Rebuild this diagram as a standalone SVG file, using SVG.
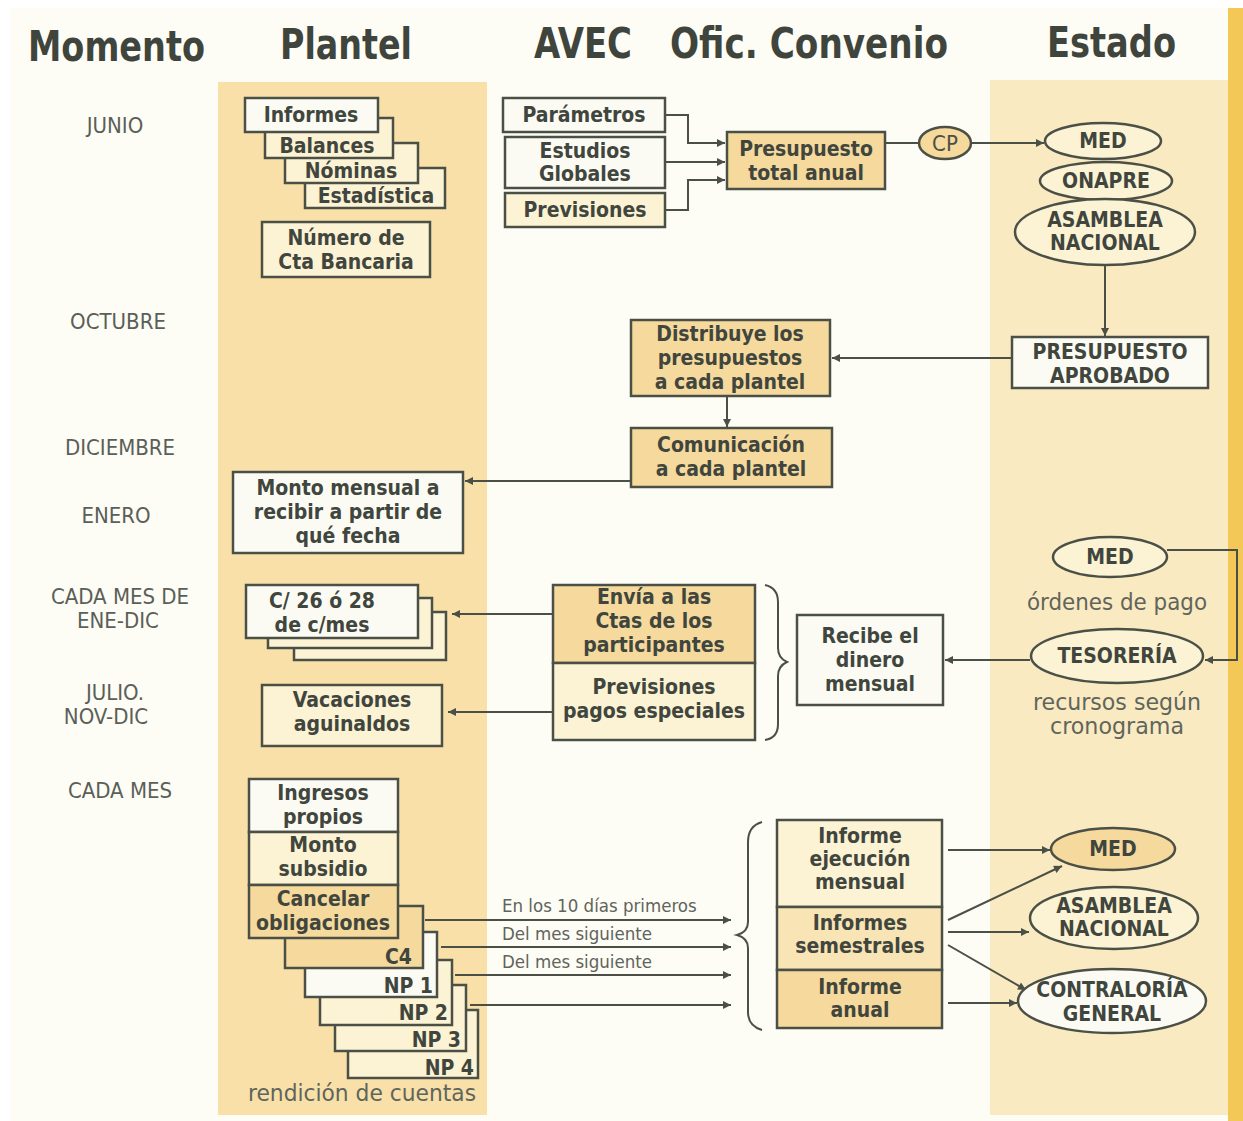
<svg xmlns="http://www.w3.org/2000/svg" width="1243" height="1121" viewBox="0 0 1243 1121">
<defs>
<style>
.bx{stroke:#4b5046;stroke-width:2.5}
.w{fill:#fbfbf3}
.c{fill:#fcf2d4}
.t{fill:#f6d99c}
.l{font-family:"DejaVu Sans Condensed","DejaVu Sans",sans-serif;font-weight:bold;font-size:21px;fill:#40463d;text-anchor:middle}
.m{font-family:"DejaVu Sans Condensed","DejaVu Sans",sans-serif;font-size:22px;fill:#5a5f58;text-anchor:middle}
.g{font-family:"DejaVu Sans Condensed","DejaVu Sans",sans-serif;font-size:23px;fill:#60655c;text-anchor:middle}
.h{font-family:"DejaVu Sans Condensed","DejaVu Sans",sans-serif;font-weight:bold;font-size:42px;fill:#3f453c}
.s{font-family:"DejaVu Sans Condensed","DejaVu Sans",sans-serif;font-size:18.5px;fill:#5f645c}
.ln{fill:none;stroke:#4b5046;stroke-width:2}
</style>
<marker id="a" viewBox="0 0 10 10" refX="10" refY="5" markerWidth="11" markerHeight="8" markerUnits="userSpaceOnUse" orient="auto"><path d="M0,0 L10,5 L0,10 z" fill="#4b5046"/></marker>
</defs>
<rect width="1243" height="1121" fill="#ffffff"/>
<rect x="10" y="8" width="1233" height="1113" fill="#fdfcf5"/>
<rect x="218" y="82" width="269" height="1033" fill="#f8e0a8"/>
<rect x="990" y="80" width="238" height="1035" fill="#faeac2"/>
<rect x="1228" y="8" width="15" height="1113" fill="#f4c857"/>

<g id="headers">
<text class="h" x="28" y="61" textLength="177" lengthAdjust="spacingAndGlyphs">Momento</text>
<text class="h" x="280" y="59" textLength="132" lengthAdjust="spacingAndGlyphs">Plantel</text>
<text class="h" x="534" y="58" textLength="98" lengthAdjust="spacingAndGlyphs">AVEC</text>
<text class="h" x="670" y="58" textLength="278" lengthAdjust="spacingAndGlyphs">Ofic. Convenio</text>
<text class="h" x="1047" y="57" textLength="129" lengthAdjust="spacingAndGlyphs">Estado</text>
</g>

<g id="momentos">
<text class="m" x="115" y="133">JUNIO</text>
<text class="m" x="118" y="329">OCTUBRE</text>
<text class="m" x="120" y="455">DICIEMBRE</text>
<text class="m" x="116" y="523">ENERO</text>
<text class="m" x="120" y="604">CADA  MES DE</text>
<text class="m" x="118" y="628">ENE-DIC</text>
<text class="m" x="115" y="700">JULIO.</text>
<text class="m" x="106" y="724">NOV-DIC</text>
<text class="m" x="120" y="798">CADA MES</text>
</g>

<g id="connectors">
<path class="ln" d="M665,115 H688 V143 H725" marker-end="url(#a)"/>
<path class="ln" d="M665,162 H725" marker-end="url(#a)"/>
<path class="ln" d="M665,210 H688 V180 H725" marker-end="url(#a)"/>
<path class="ln" d="M885,143 H919"/>
<path class="ln" d="M971,143 H1044" marker-end="url(#a)"/>
<path class="ln" d="M1105,265 V336" marker-end="url(#a)"/>
<path class="ln" d="M1012,358 H832" marker-end="url(#a)"/>
<path class="ln" d="M727,396 V427" marker-end="url(#a)"/>
<path class="ln" d="M631,481 H465" marker-end="url(#a)"/>
<path class="ln" d="M553,614 H452" marker-end="url(#a)"/>
<path class="ln" d="M553,712 H448" marker-end="url(#a)"/>
<path class="ln" d="M1030,660 H945" marker-end="url(#a)"/>
<path class="ln" d="M1167,550 H1237 V660 H1205" marker-end="url(#a)"/>
<path class="ln" d="M425,920 H731" marker-end="url(#a)"/>
<path class="ln" d="M441,947 H731" marker-end="url(#a)"/>
<path class="ln" d="M455,975 H731" marker-end="url(#a)"/>
<path class="ln" d="M470,1005 H731" marker-end="url(#a)"/>
<path class="ln" d="M948,850 H1050" marker-end="url(#a)"/>
<path class="ln" d="M948,920 L1062,866" marker-end="url(#a)"/>
<path class="ln" d="M948,932 H1029" marker-end="url(#a)"/>
<path class="ln" d="M948,945 L1026,990" marker-end="url(#a)"/>
<path class="ln" d="M948,1003 H1017" marker-end="url(#a)"/>
<path class="ln" d="M765,585 Q778,588 778,602 V648 Q778,658 787,662 Q778,666 778,676 V724 Q778,738 765,740"/>
<path class="ln" d="M762,822 Q748,826 748,842 V922 Q748,932 737,935 Q748,938 748,948 V1012 Q748,1026 762,1030"/>
<text class="s" x="502" y="912">En los 10 días primeros</text>
<text class="s" x="502" y="940">Del mes siguiente</text>
<text class="s" x="502" y="968">Del mes siguiente</text>
</g>

<g id="informes-stack">
<rect class="bx c" x="305" y="168" width="140" height="40"/>
<rect class="bx c" x="285" y="143" width="133" height="40"/>
<rect class="bx c" x="265" y="118" width="128" height="40"/>
<rect class="bx w" x="245" y="98" width="133" height="34"/>
<text class="l" x="311" y="122">Informes</text>
<text class="l" x="327" y="153">Balances</text>
<text class="l" x="351" y="178">Nóminas</text>
<text class="l" x="376" y="203">Estadística</text>
</g>

<g id="cta-bancaria">
<rect class="bx c" x="262" y="222" width="168" height="55"/>
<text class="l" x="346" y="245">Número de</text>
<text class="l" x="346" y="269">Cta Bancaria</text>
</g>

<g id="parametros">
<rect class="bx w" x="503" y="98" width="162" height="34"/>
<text class="l" x="584" y="122">Parámetros</text>
</g>
<g id="estudios">
<rect class="bx w" x="505" y="137" width="160" height="51"/>
<text class="l" x="585" y="158">Estudios</text>
<text class="l" x="585" y="181">Globales</text>
</g>
<g id="previsiones">
<rect class="bx c" x="505" y="193" width="160" height="34"/>
<text class="l" x="585" y="217">Previsiones</text>
</g>
<g id="presupuesto-total">
<rect class="bx t" x="727" y="132" width="158" height="57"/>
<text class="l" x="806" y="156">Presupuesto</text>
<text class="l" x="806" y="180">total anual</text>
</g>
<g id="cp">
<ellipse class="bx t" cx="945" cy="143" rx="26" ry="16"/>
<text class="m" x="945" y="151" style="fill:#4b5046">CP</text>
</g>
<g id="med1">
<ellipse class="bx c" cx="1103" cy="141" rx="58" ry="18"/>
<text class="l" x="1103" y="148">MED</text>
</g>
<g id="onapre">
<ellipse class="bx c" cx="1106" cy="181" rx="66" ry="19"/>
<text class="l" x="1106" y="188">ONAPRE</text>
</g>
<g id="asamblea1">
<ellipse class="bx c" cx="1105" cy="232" rx="90" ry="33"/>
<text class="l" x="1105" y="227">ASAMBLEA</text>
<text class="l" x="1105" y="250">NACIONAL</text>
</g>
<g id="presupuesto-aprobado">
<rect class="bx w" x="1012" y="337" width="196" height="51"/>
<text class="l" x="1110" y="359">PRESUPUESTO</text>
<text class="l" x="1110" y="383">APROBADO</text>
</g>
<g id="distribuye">
<rect class="bx t" x="631" y="320" width="199" height="76"/>
<text class="l" x="730" y="341">Distribuye los</text>
<text class="l" x="730" y="365">presupuestos</text>
<text class="l" x="730" y="389">a cada plantel</text>
</g>
<g id="comunicacion">
<rect class="bx t" x="631" y="428" width="201" height="59"/>
<text class="l" x="731" y="452">Comunicación</text>
<text class="l" x="731" y="476">a cada plantel</text>
</g>
<g id="monto-mensual">
<rect class="bx w" x="233" y="472" width="230" height="81"/>
<text class="l" x="348" y="495">Monto mensual a</text>
<text class="l" x="348" y="519">recibir a partir de</text>
<text class="l" x="348" y="543">qué fecha</text>
</g>

<g id="c26-stack">
<rect class="bx c" x="294" y="612" width="152" height="48"/>
<rect class="bx c" x="268" y="598" width="164" height="50"/>
<rect class="bx w" x="246" y="585" width="172" height="53"/>
<text class="l" x="322" y="608">C/ 26 ó 28</text>
<text class="l" x="322" y="632">de c/mes</text>
</g>
<g id="envia">
<rect class="bx t" x="553" y="585" width="202" height="78"/>
<text class="l" x="654" y="604">Envía a las</text>
<text class="l" x="654" y="628">Ctas de los</text>
<text class="l" x="654" y="652">participantes</text>
</g>
<g id="previsiones-pagos">
<rect class="bx c" x="553" y="663" width="202" height="77"/>
<text class="l" x="654" y="694">Previsiones</text>
<text class="l" x="654" y="718">pagos especiales</text>
</g>
<g id="vacaciones">
<rect class="bx c" x="262" y="685" width="180" height="61"/>
<text class="l" x="352" y="707">Vacaciones</text>
<text class="l" x="352" y="731">aguinaldos</text>
</g>
<g id="recibe">
<rect class="bx w" x="797" y="615" width="146" height="90"/>
<text class="l" x="870" y="643">Recibe el</text>
<text class="l" x="870" y="667">dinero</text>
<text class="l" x="870" y="691">mensual</text>
</g>
<g id="med2">
<ellipse class="bx c" cx="1110" cy="557" rx="57" ry="20"/>
<text class="l" x="1110" y="564">MED</text>
<text class="g" x="1117" y="610" textLength="180" lengthAdjust="spacingAndGlyphs">órdenes de pago</text>
</g>
<g id="tesoreria">
<ellipse class="bx c" cx="1117" cy="656" rx="86" ry="27"/>
<text class="l" x="1117" y="663">TESORERÍA</text>
<text class="g" x="1117" y="710" textLength="168" lengthAdjust="spacingAndGlyphs">recursos según</text>
<text class="g" x="1117" y="734" textLength="134" lengthAdjust="spacingAndGlyphs">cronograma</text>
</g>

<g id="rendicion-stack">
<rect class="bx c" x="348" y="1010" width="130" height="68"/>
<rect class="bx c" x="335" y="985" width="131" height="66"/>
<rect class="bx c" x="320" y="960" width="132" height="65"/>
<rect class="bx w" x="305" y="932" width="132" height="65"/>
<rect class="bx t" x="285" y="906" width="138" height="62"/>
<text class="l" x="474" y="1075" style="text-anchor:end">NP 4</text>
<text class="l" x="461" y="1047" style="text-anchor:end">NP 3</text>
<text class="l" x="448" y="1020" style="text-anchor:end">NP 2</text>
<text class="l" x="433" y="993" style="text-anchor:end">NP 1</text>
<text class="l" x="412" y="964" style="text-anchor:end">C4</text>
<text class="g" x="362" y="1101" textLength="228" lengthAdjust="spacingAndGlyphs">rendición de cuentas</text>
</g>
<g id="ingresos">
<rect class="bx w" x="249" y="779" width="149" height="53"/>
<text class="l" x="323" y="800">Ingresos</text>
<text class="l" x="323" y="824">propios</text>
</g>
<g id="monto-subsidio">
<rect class="bx c" x="249" y="832" width="149" height="53"/>
<text class="l" x="323" y="852">Monto</text>
<text class="l" x="323" y="876">subsidio</text>
</g>
<g id="cancelar">
<rect class="bx t" x="249" y="885" width="149" height="53"/>
<text class="l" x="323" y="906">Cancelar</text>
<text class="l" x="323" y="930">obligaciones</text>
</g>

<g id="informe-mensual">
<rect class="bx c" x="777" y="820" width="165" height="87"/>
<text class="l" x="860" y="843">Informe</text>
<text class="l" x="860" y="866">ejecución</text>
<text class="l" x="860" y="889">mensual</text>
</g>
<g id="informes-semestrales">
<rect class="bx" style="fill:#f8e4b4" x="777" y="907" width="165" height="63"/>
<text class="l" x="860" y="930">Informes</text>
<text class="l" x="860" y="953">semestrales</text>
</g>
<g id="informe-anual">
<rect class="bx t" x="777" y="970" width="165" height="58"/>
<text class="l" x="860" y="994">Informe</text>
<text class="l" x="860" y="1017">anual</text>
</g>
<g id="med3">
<ellipse class="bx t" cx="1113" cy="849" rx="62" ry="21"/>
<text class="l" x="1113" y="856">MED</text>
</g>
<g id="asamblea2">
<ellipse class="bx c" cx="1114" cy="918" rx="84" ry="31"/>
<text class="l" x="1114" y="913">ASAMBLEA</text>
<text class="l" x="1114" y="936">NACIONAL</text>
</g>
<g id="contraloria">
<ellipse class="bx w" cx="1112" cy="1001" rx="94" ry="32"/>
<text class="l" x="1112" y="997">CONTRALORÍA</text>
<text class="l" x="1112" y="1021">GENERAL</text>
</g>
</svg>
